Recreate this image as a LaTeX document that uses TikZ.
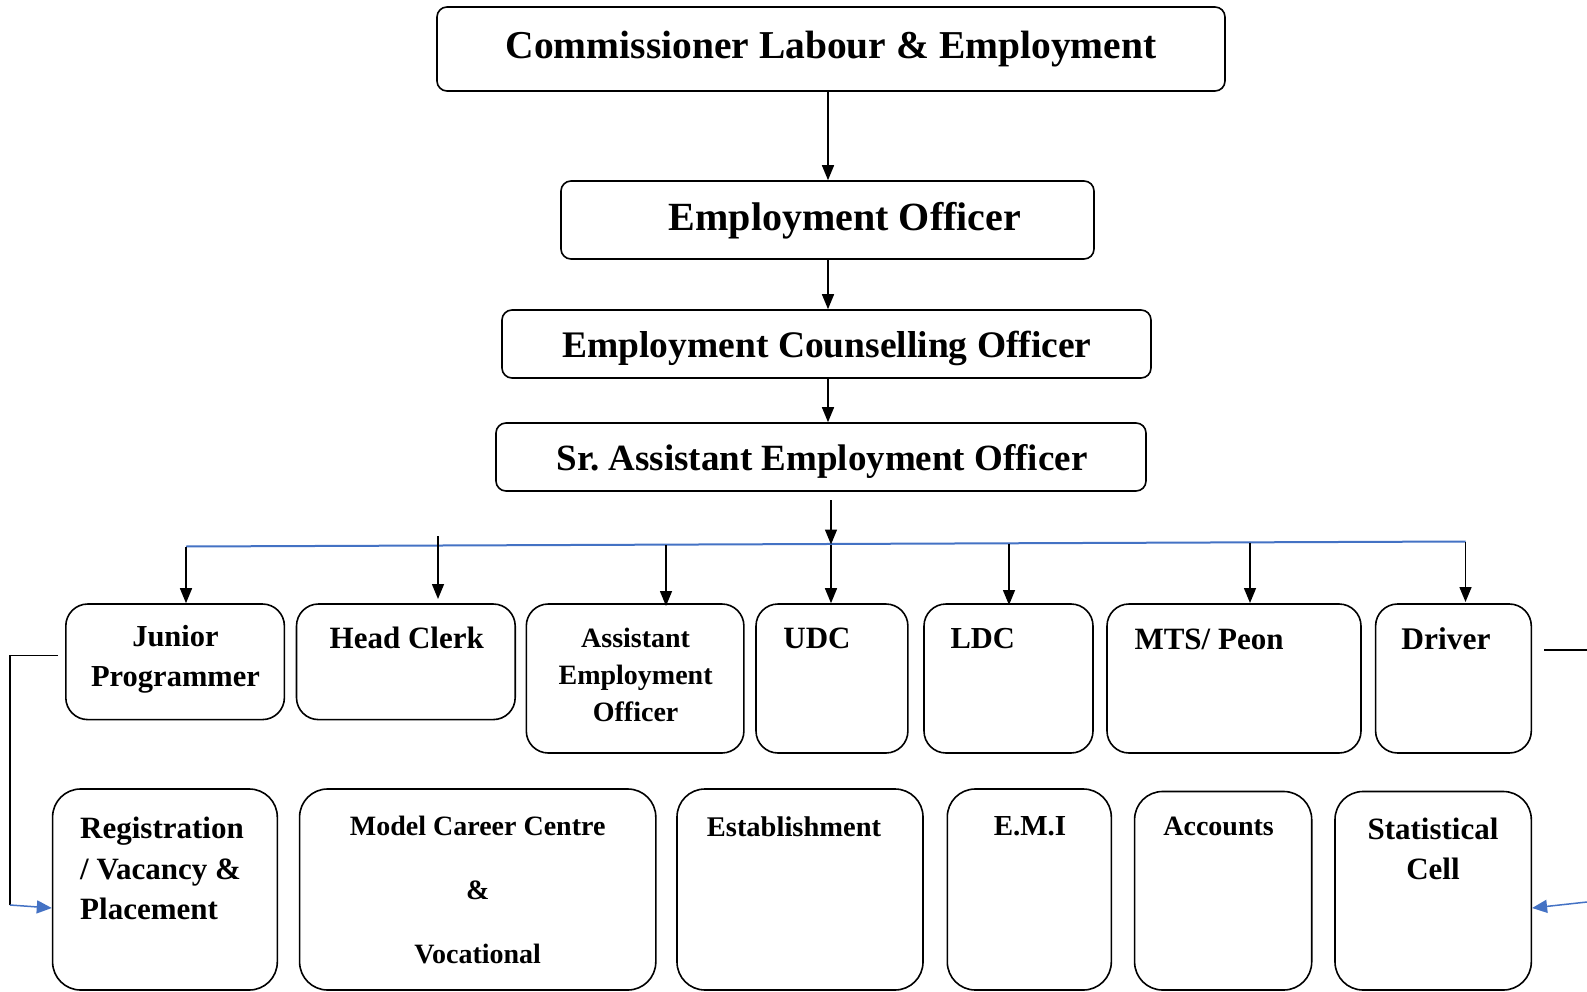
\documentclass[tikz,border=0pt]{standalone}
\usepackage{fontspec}
\setmainfont{Liberation Serif}
\usetikzlibrary{arrows.meta}
\definecolor{busblue}{RGB}{68,114,196}
\begin{document}
\frenchspacing
\begin{tikzpicture}[x=1pt,y=-1pt,
  topbox/.style={draw, line width=1.6pt, rounded corners=10pt, inner sep=0pt},
  rowbox/.style={draw, line width=1.6pt, rounded corners=22pt, inner sep=0pt},
  lowbox/.style={draw, line width=1.6pt, rounded corners=28pt, inner sep=0pt},
  txt/.style={inner sep=0pt, align=center, font=\bfseries},
  arr/.style={line width=1.5pt, -{Triangle[length=15pt,width=12pt]}},
  busline/.style={draw=busblue, line width=2pt},
  bluearr/.style={draw=busblue, line width=1.5pt, -{Triangle[length=15pt,width=13pt]}, busblue},
  plain/.style={line width=1.5pt}]
\useasboundingbox (0,0) rectangle (1587,992);

% top chain
\node[topbox, minimum width=788, minimum height=84] (comm) at (831,49) {};
\node[txt, font=\fontsize{39.5}{42}\selectfont\bfseries] (commt) at (831,49) {Commissioner Labour \& Employment};
\node[topbox, minimum width=533, minimum height=78] (eo) at (827.5,220) {};
\node[txt, font=\fontsize{40}{42}\selectfont\bfseries] (eot) at (845,221) {Employment Officer};
\node[topbox, minimum width=649, minimum height=68] (eco) at (826.5,344) {};
\node[txt, font=\fontsize{37.5}{40}\selectfont\bfseries] (ecot) at (827,348) {Employment Counselling Officer};
\node[topbox, minimum width=650, minimum height=68] (saeo) at (821,457) {};
\node[txt, font=\fontsize{37}{40}\selectfont\bfseries] (saeot) at (822,461) {Sr. Assistant Employment Officer};

\draw[arr] (comm.south -| 828,0) -- (eo.north -| 828,0);
\draw[arr] (eo.south -| 828,0) -- (eco.north -| 828,0);
\draw[arr] (eco.south -| 828,0) -- (saeo.north -| 828,0);

% row 1 boxes
\node[rowbox, minimum width=218.6, minimum height=115.6] (jp) at (175.1,661.8) {};
\node[txt, font=\fontsize{30.5}{40.4}\selectfont\bfseries] (jpt) at (175.5,659.5) {Junior\\Programmer};
\node[rowbox, minimum width=218.7, minimum height=115.6] (hc) at (405.85,661.8) {};
\node[txt, font=\fontsize{31}{33}\selectfont\bfseries] (hct) at (406.8,637.5) {Head Clerk};
\node[rowbox, minimum width=217.6, minimum height=149] (aeo) at (635.1,678.5) {};
\node[txt, font=\fontsize{28}{37}\selectfont\bfseries] (aeot) at (635.6,675) {Assistant\\Employment\\Officer};
\node[rowbox, minimum width=151.9, minimum height=149] (udc) at (831.95,678.5) {};
\node[txt, font=\fontsize{31}{33}\selectfont\bfseries] (udct) at (817,638) {UDC};
\node[rowbox, minimum width=169, minimum height=149] (ldc) at (1008.5,678.5) {};
\node[txt, font=\fontsize{30.5}{33}\selectfont\bfseries] (ldct) at (982.7,639) {LDC};
\node[rowbox, minimum width=254, minimum height=149] (mts) at (1234,678.5) {};
\node[txt, font=\fontsize{31}{33}\selectfont\bfseries] (mtst) at (1209,639) {MTS/ Peon};
\node[rowbox, minimum width=155.7, minimum height=149] (drv) at (1453.45,678.5) {};
\node[txt, font=\fontsize{31.5}{33}\selectfont\bfseries] (drvt) at (1446,638.5) {Driver};

% row 2 boxes
\node[lowbox, minimum width=224.7, minimum height=201] (reg) at (164.95,889.5) {};
\node[txt, align=left, anchor=west, font=\fontsize{31}{40.5}\selectfont\bfseries] (regt) at (80,868.5) {Registration\\/ Vacancy \&\\Placement};
\node[lowbox, minimum width=356.2, minimum height=201] (mcc) at (477.7,889.5) {};
\node[txt, font=\fontsize{28}{64.2}\selectfont\bfseries] (mcct) at (477.7,890) {Model Career Centre\\\&\\Vocational};
\node[lowbox, minimum width=246, minimum height=201] (est) at (800,889.5) {};
\node[txt, font=\fontsize{28.5}{30}\selectfont\bfseries] (estt) at (794,826.5) {Establishment};
\node[lowbox, minimum width=164, minimum height=201] (emi) at (1029.3,889.5) {};
\node[txt, font=\fontsize{29}{30}\selectfont\bfseries] (emit) at (1030,826.5) {E.M.I};
\node[lowbox, minimum width=177.1, minimum height=198.5] (acc) at (1223.15,890.75) {};
\node[txt, font=\fontsize{28}{30}\selectfont\bfseries] (acct) at (1218.6,826.5) {Accounts};
\node[lowbox, minimum width=196.3, minimum height=198.5] (stat) at (1433.15,890.75) {};
\node[txt, font=\fontsize{31}{39.5}\selectfont\bfseries] (statt) at (1433,849) {Statistical\\Cell};

% bus
\coordinate (busL) at (186,546.5);
\coordinate (busR) at (1465.5,541.5);
\draw[busline] (busL) -- (busR);
\coordinate (b1) at (186,546.5);
\coordinate (b2) at (438,536);
\coordinate (b3) at (666,545);
\coordinate (b4) at (831,544.5);
\coordinate (b5) at (1009,543.5);
\coordinate (b6) at (1250,542.5);
\coordinate (b7) at (1465.5,541.5);
\coordinate (s0) at (831,500);

\draw[arr] (s0) -- (b4);
\draw[arr] (b1) -- (b1 |- jp.north);
\draw[arr] (b2) -- (438,599);
\draw[arr] (b3) -- (666,606);
\draw[arr] (b4) -- (b4 |- udc.north);
\draw[arr] (b5) -- (1009,605);
\draw[arr] (b6) -- (1250,603);
\draw[arr] (b7) -- (1465.5,602);

% side connectors
\coordinate (lA) at (58,655.7);
\coordinate (lB) at (10,655.7);
\coordinate (lC) at (10,905);
\draw[plain] (lA) -- (lB) -- (lC);
\draw[bluearr] (lC) -- (reg.west |- 0,908);
\coordinate (rA) at (1544,650);
\coordinate (rB) at (1587,650);
\draw[plain] (rA) -- (rB);
\coordinate (rC) at (1587,902);
\draw[bluearr] (rC) -- (stat.east |- 0,908);
\end{tikzpicture}
\end{document}
